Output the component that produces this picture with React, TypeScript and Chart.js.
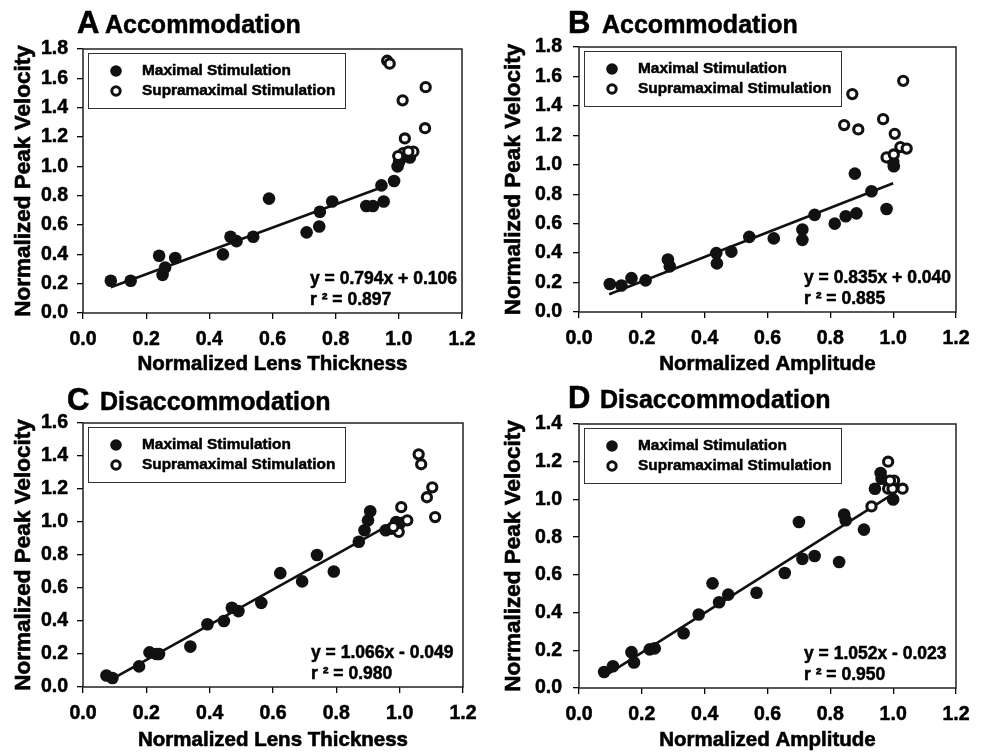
import React, { useEffect, useRef } from "react";
import { Chart, registerables } from "chart.js";

Chart.register(...registerables);

const FONT = "'Liberation Sans', Arial, Helvetica, sans-serif";

// ---------- Data ----------
const xTicksMax = 1.2;

// Panel A: Accommodation vs Normalized Lens Thickness
const aMaxX = [0.088, 0.151, 0.241, 0.252, 0.26, 0.292, 0.443, 0.467, 0.486, 0.539, 0.589, 0.708, 0.748, 0.75, 0.789, 0.897, 0.918, 0.952, 0.945, 0.985, 0.996, 1.001, 1.008, 1.035];
const aMaxY = [0.22, 0.22, 0.39, 0.26, 0.31, 0.375, 0.4, 0.52, 0.49, 0.52, 0.78, 0.55, 0.59, 0.69, 0.76, 0.73, 0.73, 0.76, 0.87, 0.9, 1.0, 1.03, 1.06, 1.06];
const aSupX = [0.963, 0.971, 1.012, 1.019, 1.085, 1.083, 1.014, 1.046, 0.998, 1.03];
const aSupY = [1.72, 1.7, 1.45, 1.19, 1.54, 1.26, 1.09, 1.1, 1.07, 1.1];

// Panel B: Accommodation vs Normalized Amplitude
const bMaxX = [0.098, 0.135, 0.167, 0.212, 0.283, 0.289, 0.437, 0.439, 0.485, 0.542, 0.62, 0.711, 0.711, 0.75, 0.814, 0.849, 0.883, 0.878, 0.931, 0.979, 1.002, 1.0];
const bMaxY = [0.19, 0.18, 0.23, 0.215, 0.357, 0.31, 0.4, 0.33, 0.41, 0.51, 0.5, 0.56, 0.49, 0.66, 0.6, 0.65, 0.67, 0.94, 0.82, 0.7, 0.99, 1.02];
const bSupX = [0.844, 0.87, 0.889, 0.968, 1.005, 1.032, 1.023, 1.043, 0.979, 1.002];
const bSupY = [1.27, 1.48, 1.24, 1.31, 1.21, 1.57, 1.12, 1.11, 1.05, 1.07];

// Panel C: Disaccommodation vs Normalized Lens Thickness
const cMaxX = [0.074, 0.093, 0.177, 0.21, 0.232, 0.24, 0.339, 0.393, 0.445, 0.47, 0.491, 0.563, 0.623, 0.692, 0.739, 0.792, 0.871, 0.889, 0.9, 0.907, 0.956, 0.974, 0.989, 1.0];
const cMaxY = [0.07, 0.055, 0.125, 0.21, 0.2, 0.2, 0.245, 0.38, 0.4, 0.48, 0.46, 0.51, 0.69, 0.64, 0.8, 0.7, 0.88, 0.95, 1.01, 1.065, 0.95, 0.96, 1.0, 0.99];
const cSupX = [1.06, 1.068, 1.103, 1.086, 1.112, 1.005, 1.024, 0.997, 0.98];
const cSupY = [1.41, 1.35, 1.21, 1.15, 1.03, 1.09, 1.01, 0.94, 0.97];

// Panel D: Disaccommodation vs Normalized Amplitude
const dMaxX = [0.08, 0.108, 0.167, 0.175, 0.225, 0.241, 0.333, 0.381, 0.425, 0.446, 0.475, 0.565, 0.655, 0.7, 0.711, 0.75, 0.828, 0.844, 0.849, 0.907, 0.942, 0.96, 0.963, 1.0];
const dMaxY = [0.085, 0.115, 0.19, 0.135, 0.205, 0.21, 0.29, 0.39, 0.555, 0.455, 0.495, 0.505, 0.61, 0.88, 0.685, 0.7, 0.668, 0.92, 0.89, 0.84, 1.057, 1.14, 1.11, 1.0];
const dSupX = [0.984, 0.931, 0.984, 1.003, 1.03, 0.998, 0.99];
const dSupY = [1.2, 0.963, 1.057, 1.1, 1.057, 1.057, 1.1];

// Regression fits (slope, intercept, x-range of drawn line)
const fitSlope = [0.794, 0.835, 1.066, 1.052];
const fitIntercept = [0.106, 0.04, -0.049, -0.023];
const fitXStart = [0.088, 0.096, 0.084, 0.08];
const fitXEnd = [0.955, 1.0, 1.01, 1.0];

const yMaxes = [1.8, 1.8, 1.6, 1.4];
const letters = ["A", "B", "C", "D"];
const panelTitles = ["Accommodation", "Accommodation", "Disaccommodation", "Disaccommodation"];
const xTitles = ["Normalized Lens Thickness", "Normalized Amplitude", "Normalized Lens Thickness", "Normalized Amplitude"];
const yTitle = "Normalized Peak Velocity";
const eqLines = ["y = 0.794x + 0.106", "y = 0.835x + 0.040", "y = 1.066x - 0.049", "y = 1.052x - 0.023"];
const r2Lines = ["r \u00b2 = 0.897", "r \u00b2 = 0.885", "r \u00b2 = 0.980", "r \u00b2 = 0.950"];
const legendLabels = ["Maximal Stimulation", "Supramaximal Stimulation"];

const maxXs = [aMaxX, bMaxX, cMaxX, dMaxX];
const maxYs = [aMaxY, bMaxY, cMaxY, dMaxY];
const supXs = [aSupX, bSupX, cSupX, dSupX];
const supYs = [aSupY, bSupY, cSupY, dSupY];

// ---------- Layout (per panel canvas) ----------
type Layout = {
  left: number; top: number; w: number; h: number;
  aL: number; aR: number; aT: number; aB: number;
  yTitleX: number; yLabPad: number;
  letterX: number; wordX: number; titleBase: number;
};

const layouts: Layout[] = [
  { left: 0, top: 0, w: 490, h: 376, aL: 83, aR: 462, aT: 49, aB: 313, yTitleX: 24, yLabPad: 9, letterX: 77, wordX: 105, titleBase: 33 },
  { left: 490, top: 0, w: 495, h: 376, aL: 89, aR: 466, aT: 47, aB: 312, yTitleX: 24, yLabPad: 11, letterX: 78, wordX: 112, titleBase: 33 },
  { left: 0, top: 376, w: 490, h: 376, aL: 83, aR: 463, aT: 47, aB: 311, yTitleX: 24, yLabPad: 9, letterX: 67, wordX: 100, titleBase: 34 },
  { left: 490, top: 376, w: 495, h: 376, aL: 89, aR: 466, aT: 48, aB: 312, yTitleX: 24, yLabPad: 11, letterX: 78, wordX: 110, titleBase: 32 },
];

function boldText(ctx: CanvasRenderingContext2D, s: string, x: number, y: number, sw: number) {
  ctx.lineWidth = sw;
  ctx.strokeStyle = "#000";
  ctx.strokeText(s, x, y);
  ctx.fillText(s, x, y);
}

function Panel({ idx }: { idx: number }) {
  const ref = useRef<HTMLCanvasElement | null>(null);
  const L = layouts[idx];

  useEffect(() => {
    const canvas = ref.current;
    if (!canvas) return;

    const maxPts = maxXs[idx].map((x, i) => ({ x, y: maxYs[idx][i] }));
    const supPts = supXs[idx].map((x, i) => ({ x, y: supYs[idx][i] }));
    const fitPts = [fitXStart[idx], fitXEnd[idx]].map((x) => ({ x, y: fitSlope[idx] * x + fitIntercept[idx] }));

    const tickFont = { family: FONT, size: 19.5, weight: "bold" as const };

    const decor = {
      id: "decor" + idx,
      afterDraw(chart: any) {
        const ctx = chart.ctx as CanvasRenderingContext2D;
        const a = chart.chartArea;
        ctx.save();
        // frame
        ctx.strokeStyle = "#222";
        ctx.lineWidth = 1.5;
        ctx.strokeRect(a.left, a.top, a.right - a.left, a.bottom - a.top);

        // legend box
        const bx = a.left + 5;
        const by = a.top + 4;
        ctx.lineWidth = 1;
        ctx.strokeStyle = "#333";
        ctx.strokeRect(bx + 0.5, by + 0.5, 257, 55);
        ctx.fillStyle = "#111";
        ctx.beginPath();
        ctx.arc(bx + 28, by + 18, 5.8, 0, Math.PI * 2);
        ctx.fill();
        ctx.beginPath();
        ctx.lineWidth = 3;
        ctx.strokeStyle = "#111";
        ctx.arc(bx + 28, by + 38, 4.2, 0, Math.PI * 2);
        ctx.stroke();
        ctx.fillStyle = "#000";
        ctx.font = `bold 15.4px ${FONT}`;
        ctx.textBaseline = "middle";
        ctx.textAlign = "left";
        boldText(ctx, legendLabels[0], bx + 54, by + 18, 0.5);
        boldText(ctx, legendLabels[1], bx + 54, by + 38, 0.5);

        // equation
        ctx.font = `bold 17.5px ${FONT}`;
        boldText(ctx, eqLines[idx], a.right - 152, a.bottom - 34, 0.5);
        boldText(ctx, r2Lines[idx], a.right - 152, a.bottom - 13, 0.5);

        // axis titles
        ctx.textAlign = "center";
        ctx.font = `bold 20.5px ${FONT}`;
        boldText(ctx, xTitles[idx], (a.left + a.right) / 2, L.h - 12, 0.6);
        ctx.save();
        ctx.translate(L.yTitleX, (a.top + a.bottom) / 2);
        ctx.rotate(-Math.PI / 2);
        ctx.font = `bold 22.5px ${FONT}`;
        boldText(ctx, yTitle, 0, 0, 0.6);
        ctx.restore();

        // panel title
        ctx.textAlign = "left";
        ctx.textBaseline = "alphabetic";
        ctx.font = `bold 31px ${FONT}`;
        boldText(ctx, letters[idx], L.letterX, L.titleBase, 0.6);
        ctx.font = `bold 25px ${FONT}`;
        boldText(ctx, panelTitles[idx], L.wordX, L.titleBase, 0.5);
        ctx.restore();
      },
    };

    const chart = new Chart(canvas, {
      type: "scatter",
      data: {
        datasets: [
          {
            label: legendLabels[1],
            data: supPts,
            order: 1,
            pointRadius: 4.6,
            pointBorderWidth: 3.1,
            pointBackgroundColor: "#fff",
            pointBorderColor: "#111",
            showLine: false,
          },
          {
            label: "fit",
            type: "line",
            data: fitPts,
            order: 2,
            borderColor: "#111",
            borderWidth: 2.6,
            pointRadius: 0,
            fill: false,
          },
          {
            label: legendLabels[0],
            data: maxPts,
            order: 3,
            pointRadius: 6.3,
            pointBorderWidth: 0,
            pointBackgroundColor: "#111",
            pointBorderColor: "#111",
            showLine: false,
          },
        ] as any,
      },
      options: {
        responsive: false,
        animation: false,
        events: [],
        layout: { padding: { left: 0, top: L.aT, right: L.w - L.aR, bottom: 0 } },
        plugins: { legend: { display: false }, tooltip: { enabled: false }, title: { display: false } },
        scales: {
          x: {
            type: "linear",
            min: 0,
            max: xTicksMax,
            ticks: {
              stepSize: 0.2,
              autoSkip: false,
              maxRotation: 0,
              color: "#000",
              font: tickFont,
              padding: 9,
              textStrokeColor: "#000",
              textStrokeWidth: 0.5,
              callback: (v: any) => Number(v).toFixed(1),
            },
            grid: { drawOnChartArea: false, drawTicks: true, tickLength: 6, color: "#000", lineWidth: 1.3 },
            border: { display: false },
            title: { display: false },
            afterFit: (s: any) => {
              s.height = L.h - L.aB;
            },
          },
          y: {
            type: "linear",
            min: 0,
            max: yMaxes[idx],
            ticks: {
              stepSize: 0.2,
              autoSkip: false,
              color: "#000",
              font: tickFont,
              padding: L.yLabPad,
              textStrokeColor: "#000",
              textStrokeWidth: 0.5,
              callback: (v: any) => Number(v).toFixed(1),
            },
            grid: { drawOnChartArea: false, drawTicks: true, tickLength: 6, color: "#000", lineWidth: 1.3 },
            border: { display: false },
            title: { display: false },
            afterFit: (s: any) => {
              s.width = L.aL;
            },
          },
        },
      } as any,
      plugins: [decor],
    });

    return () => chart.destroy();
  }, [idx]);

  return (
    <canvas
      ref={ref}
      width={L.w}
      height={L.h}
      style={{ position: "absolute", left: L.left, top: L.top, width: L.w, height: L.h }}
    />
  );
}

export default function App() {
  return (
    <div style={{ position: "absolute", left: 0, top: 0, width: 985, height: 752, background: "#fff", overflow: "hidden" }}>
      {[0, 1, 2, 3].map((i) => (
        <Panel key={i} idx={i} />
      ))}
    </div>
  );
}
